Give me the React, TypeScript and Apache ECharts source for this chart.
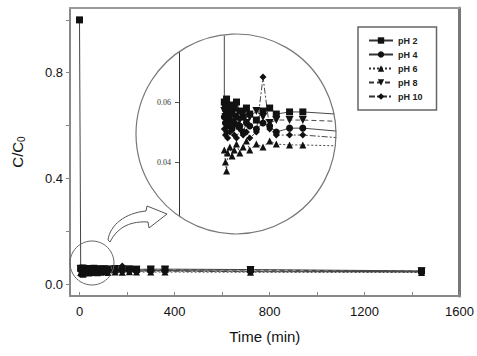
import React, { useEffect, useRef } from "react";
import * as echarts from "echarts";

const times = [0, 5, 10, 15, 20, 30, 40, 50, 60, 75, 90, 105, 120, 150, 180, 210, 240, 300, 360, 720, 1440];
const pH2 = [1.0, 0.060, 0.058, 0.061, 0.057, 0.059, 0.056, 0.058, 0.060, 0.057, 0.055, 0.058, 0.056, 0.054, 0.057, 0.058, 0.056, 0.0567, 0.0567, 0.055, 0.050];
const pH4 = [null, 0.055, 0.053, 0.056, 0.052, 0.054, 0.051, 0.053, 0.055, 0.052, 0.050, 0.053, 0.052, 0.051, 0.053, 0.052, 0.050, 0.0513, 0.0513, 0.049, 0.047];
const pH6 = [null, 0.044, 0.040, 0.037, 0.043, 0.045, 0.042, 0.044, 0.046, 0.043, 0.045, 0.047, 0.044, 0.046, 0.045, 0.047, 0.046, 0.0457, 0.0457, 0.045, 0.044];
const pH8 = [null, 0.057, 0.055, 0.052, 0.054, 0.056, 0.053, 0.055, 0.052, 0.054, 0.056, 0.053, 0.055, 0.057, 0.055, 0.053, 0.054, 0.054, 0.054, 0.053, 0.049];
const pH10 = [null, 0.051, 0.049, 0.050, 0.048, 0.050, 0.052, 0.049, 0.048, 0.051, 0.049, 0.050, 0.048, 0.050, 0.0683, 0.051, 0.049, 0.049, 0.049, 0.047, 0.046];

const seriesNames = ["pH 2", "pH 4", "pH 6", "pH 8", "pH 10"];
const seriesValues = [pH2, pH4, pH6, pH8, pH10];
const symbols = ["rect", "circle", "triangle", "path://M0,0 L10,0 L5,9 Z", "diamond"];
const lineTypes: any[] = ["solid", "solid", [2, 2], [5, 3], [6, 2, 2, 2]];

const xLabels = [0, 400, 800, 1200, 1600];
const xTicks = [0, 200, 400, 600, 800, 1000, 1200, 1400, 1600];
const yLabels = [0, 0.4, 0.8];
const yTicks = [0, 0.2, 0.4, 0.6, 0.8, 1.0];
const insetYLabels = [0.04, 0.06];

const arrowPath =
  "M108,240 C110,225 125,213 146,211 L147,206 L167,214 L149,228 L148,222 C132,221 118,226 110,242 Z";

export default function App() {
  const ref = useRef<HTMLDivElement>(null);
  useEffect(() => {
    if (!ref.current) return;
    try {
      echarts.graphic.registerShape("curvedArrow", echarts.graphic.extendPath(arrowPath, {}) as any);
    } catch (e) {}
    const chart = echarts.init(ref.current, undefined, { renderer: "svg" });
    const font = "Liberation Sans, Arial, sans-serif";

    const mainSeries = seriesNames.map((name, i) => ({
      name,
      type: "line",
      xAxisIndex: 0,
      yAxisIndex: 0,
      data: times.map((t, j) => [t, seriesValues[i][j]]),
      symbol: symbols[i],
      symbolSize: i === 3 ? 8 : 7,
      connectNulls: true,
      itemStyle: { color: "#111" },
      lineStyle: { color: "#444", width: 1, type: lineTypes[i] },
      z: 2,
    }));
    const insetSeries = seriesNames.map((name, i) => ({
      name,
      type: "line",
      xAxisIndex: 2,
      yAxisIndex: 2,
      data: times.map((t, j) => [t, seriesValues[i][j]]),
      symbol: symbols[i],
      symbolSize: i === 3 ? 8 : 7,
      connectNulls: true,
      itemStyle: { color: "#111" },
      lineStyle: { color: "#333", width: 0.9, type: lineTypes[i] },
      z: 2,
    }));

    chart.setOption({
      animation: false,
      backgroundColor: "#fff",
      textStyle: { fontFamily: font },
      grid: [
        { left: 70, right: 15, top: 8, bottom: 60 },
        { left: 179, right: 141, top: 36, bottom: 124 },
      ],
      legend: {
        data: seriesNames,
        orient: "vertical",
        left: 358,
        top: 27,
        backgroundColor: "#fff",
        borderColor: "#666",
        borderWidth: 1.5,
        padding: [9, 14, 9, 10],
        itemGap: 5,
        itemWidth: 24,
        itemHeight: 8,
        textStyle: { fontSize: 9, fontWeight: "bold", color: "#222", fontFamily: font },
        z: 6,
      },
      xAxis: [
        {
          type: "value",
          gridIndex: 0,
          min: -40,
          max: 1600,
          name: "Time (min)",
          nameLocation: "middle",
          nameGap: 33,
          nameTextStyle: { fontSize: 15, color: "#111", fontFamily: font },
          axisLine: { show: true, onZero: false, lineStyle: { color: "#888", width: 2 } },
          axisTick: { show: true, inside: true, length: 4, customValues: xTicks, lineStyle: { color: "#888" } },
          axisLabel: {
            customValues: xLabels,
            fontSize: 13,
            color: "#111",
            margin: 9,
            fontFamily: font,
            formatter: (v: number) => String(v),
          },
          splitLine: { show: false },
        },
        {
          type: "value",
          gridIndex: 0,
          position: "top",
          min: -40,
          max: 1600,
          axisLine: { show: true, onZero: false, lineStyle: { color: "#999", width: 2 } },
          axisTick: { show: false },
          axisLabel: { show: false },
          splitLine: { show: false },
        },
        {
          type: "value",
          gridIndex: 1,
          min: -200,
          max: 510,
          show: false,
          axisLine: { onZero: false },
          splitLine: { show: false },
        },
      ],
      yAxis: [
        {
          type: "value",
          gridIndex: 0,
          min: -0.045,
          max: 1.045,
          name: "{a|C/C}{b|0}",
          nameLocation: "middle",
          nameGap: 44,
          nameTextStyle: {
            fontSize: 15,
            color: "#111",
            rich: {
              a: { fontSize: 15, color: "#111", fontFamily: font },
              b: { fontSize: 10, color: "#111", fontFamily: font, padding: [7, 0, 0, 0] },
            },
          },
          axisLine: { show: true, onZero: false, lineStyle: { color: "#888", width: 2 } },
          axisTick: { show: true, inside: false, length: 4, customValues: yTicks, lineStyle: { color: "#888" } },
          axisLabel: {
            customValues: yLabels,
            fontSize: 13,
            color: "#111",
            margin: 7,
            fontFamily: font,
            formatter: (v: number) => v.toFixed(1),
          },
          splitLine: { show: false },
        },
        {
          type: "value",
          gridIndex: 0,
          position: "right",
          min: -0.045,
          max: 1.045,
          axisLine: { show: true, onZero: false, lineStyle: { color: "#777", width: 3 } },
          axisTick: { show: false },
          axisLabel: { show: false },
          splitLine: { show: false },
        },
        {
          type: "value",
          gridIndex: 1,
          min: 0.0167,
          max: 0.082,
          axisLine: { show: true, onZero: false, lineStyle: { color: "#333", width: 1 } },
          axisTick: { show: true, inside: false, length: 4, customValues: insetYLabels, lineStyle: { color: "#555" } },
          axisLabel: {
            customValues: insetYLabels,
            fontSize: 8,
            color: "#333",
            margin: 8,
            fontFamily: "Liberation Serif, serif",
            formatter: (v: number) => v.toFixed(2),
          },
          splitLine: { show: false },
        },
      ],
      series: [...insetSeries, ...mainSeries],
      graphic: [
        {
          type: "ring",
          silent: true,
          z: 3,
          shape: { cx: 236, cy: 134, r: 118, r0: 100.5 },
          style: { fill: "#fff" },
        },
        {
          type: "circle",
          silent: true,
          z: 5,
          shape: { cx: 236, cy: 134, r: 100 },
          style: { fill: "none", stroke: "#777", lineWidth: 1.2 },
        },
        {
          type: "circle",
          silent: true,
          z: 5,
          shape: { cx: 92, cy: 263, r: 22 },
          style: { fill: "none", stroke: "#666", lineWidth: 1 },
        },
        {
          type: "curvedArrow",
          silent: true,
          z: 5,
          x: 0,
          y: 0,
          scaleX: 1,
          scaleY: 1,
          style: { fill: "#fff", stroke: "#555", lineWidth: 1 },
        },
      ],
    });
    return () => chart.dispose();
  }, []);
  return <div ref={ref} style={{ width: 477, height: 356, position: "absolute", left: 0, top: 0 }} />;
}
